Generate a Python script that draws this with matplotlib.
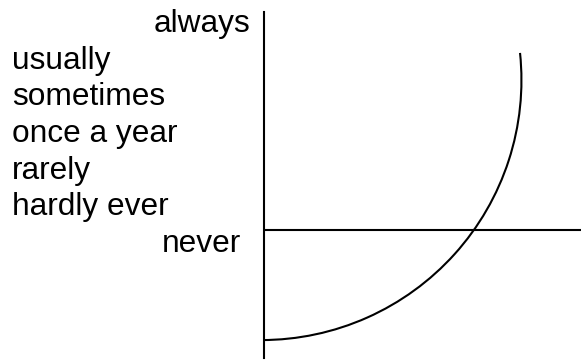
import matplotlib
matplotlib.use("Agg")
import matplotlib.pyplot as plt
from matplotlib.patches import Arc

# ---- data ----
labels_left = ["usually", "sometimes", "once a year", "rarely", "hardly ever"]
label_top = "always"
label_bottom = "never"
never_level = 0.0            # horizontal reference line ("never")
arc_center = (-0.01, 0.575)  # centre of the curved line (data units)
arc_radius = 1.0
arc_theta = (-90.0, 6.0)     # start / end angle in degrees
xlim = (0.0, 1.219)
ylim = (-0.494, 0.837)

W, H = 581, 360
fig = plt.figure(figsize=(W / 100, H / 100), dpi=100)
plt.rcParams["font.family"] = ["Liberation Sans", "DejaVu Sans"]

ax = fig.add_axes([264 / W, 1 - 358 / H, (581 - 264) / W, (358 - 12) / H])
ax.set_xlim(*xlim)
ax.set_ylim(*ylim)
for s in ["top", "right", "bottom"]:
    ax.spines[s].set_visible(False)
ax.spines["left"].set_linewidth(1.5)
ax.set_xticks([])
ax.set_yticks([])
ax.patch.set_alpha(0)

ax.axhline(never_level, color="black", lw=1.5)
arc = Arc(arc_center, 2 * arc_radius, 2 * arc_radius, theta1=arc_theta[0],
          theta2=arc_theta[1], color="black", lw=1.5)
ax.add_patch(arc)

fs = 22.8
step = 36.67
base0 = 32
fig.text(250 / W, 1 - base0 / H, label_top, ha="right", va="baseline", fontsize=fs)
for i, lab in enumerate(labels_left):
    fig.text(12 / W, 1 - (base0 + step * (i + 1)) / H, lab, ha="left",
             va="baseline", fontsize=fs)
fig.text(241 / W, 1 - (base0 + step * 6) / H, label_bottom, ha="right",
         va="baseline", fontsize=fs)

fig.savefig("out.png", dpi=100)
